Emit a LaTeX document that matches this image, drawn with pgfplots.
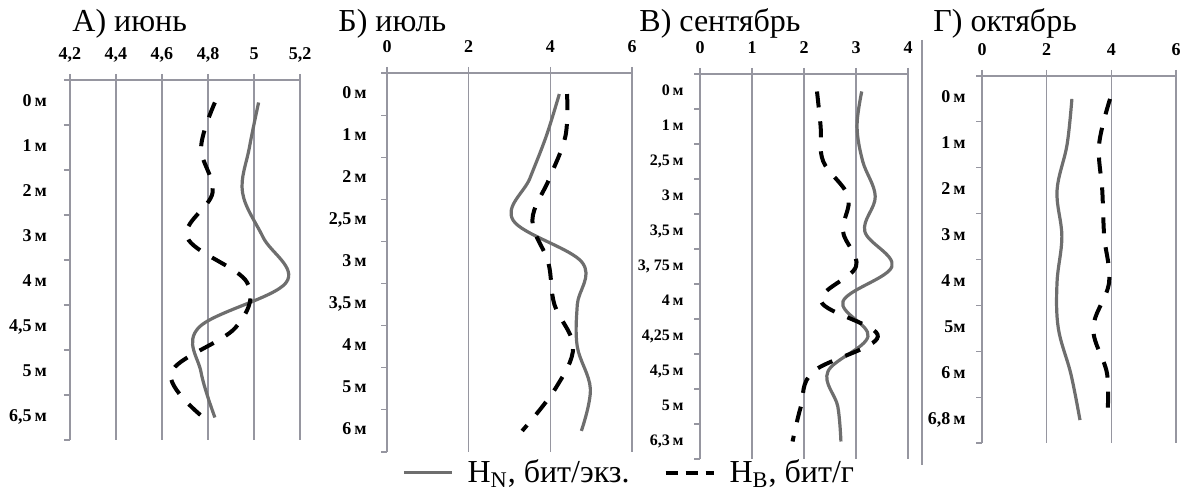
\documentclass[border=0pt]{standalone}
\usepackage{pgfplots}
\pgfplotsset{compat=1.18}
\usepackage{fontspec}
\setmainfont{Liberation Serif}
\definecolor{gridc}{RGB}{150,150,160}
\definecolor{hncol}{RGB}{110,110,110}
\pgfplotsset{
  panel/.style={
    scale only axis,
    axis x line=top,
    axis y line=left,
    axis line style={gridc, line width=0.6pt, -},
    xmajorgrids,
    major grid style={gridc, line width=0.6pt},
    major tick length=0pt,
    minor tick length=3pt,
    tick align=outside,
    minor tick style={gridc, line width=0.6pt},
    tick label style={font=\fontsize{9}{10}\selectfont\bfseries},
    typeset ticklabels with strut,
    /pgf/number format/use comma,
    /pgf/number format/assume math mode=true,
    xticklabel style={yshift=3.5pt},
    legend image code/.code={\draw[##1] (0pt,0pt) -- (24pt,0pt);},
  },
  hn/.style={hncol, line width=1.6pt, smooth, tension=0.6, no markers},
  hb/.style={black, line width=2pt, dash pattern=on 8pt off 7pt, smooth, tension=0.6, no markers},
}
\begin{document}
\begin{tikzpicture}
\path[use as bounding box] (0pt,0pt) rectangle (591.5pt,246pt);
% titles
\node[anchor=base west, inner sep=0pt, font=\fontsize{16}{18}\selectfont] at (36pt,230pt) {А) июнь};
\node[anchor=base west, inner sep=0pt, font=\fontsize{16}{18}\selectfont] at (169pt,230pt) {Б) июль};
\node[anchor=base west, inner sep=0pt, font=\fontsize{16}{18}\selectfont] at (319.5pt,230pt) {В) сентябрь};
\node[anchor=base west, inner sep=0pt, font=\fontsize{16}{18}\selectfont] at (466.5pt,230pt) {Г) октябрь};
\draw[gridc, line width=0.8pt] (461pt,226pt) -- (461pt,13.5pt);

% A
\begin{axis}[panel, at={(35pt,206pt)}, anchor=north west, width=115pt, height=180pt,
  xmin=4.2, xmax=5.2, xtick={4.2,4.4,4.6,4.8,5,5.2}, minor xtick={4.2,4.4,4.6,4.8,5,5.2},
  ymin=-0.5, ymax=7.5, ytick={0,...,7},
  yticklabels={{6,5\,м},{5\,м},{4,5\,м},{4\,м},{3\,м},{2\,м},{1\,м},{0\,м}},
  minor ytick={-0.5,0.5,...,7.5}, yticklabel style={xshift=-8pt}]
\addplot[hn] coordinates {(5.02,7) (4.98,6) (4.95,5) (5.04,4) (5.14,3) (4.76,2) (4.77,1) (4.83,0)};
\addplot[hb] coordinates {(4.83,7) (4.77,6) (4.82,5) (4.71,4) (4.97,3) (4.92,2) (4.64,1) (4.78,0)};
\end{axis}

% B
\begin{axis}[panel, at={(193.5pt,209.5pt)}, anchor=north west, width=122.5pt, height=189.5pt,
  xmin=0, xmax=6, xtick={0,2,4,6}, minor xtick={0,2,4,6},
  ymin=-0.5, ymax=8.5, ytick={0,...,8},
  yticklabels={{6\,м},{5\,м},{4\,м},{3,5\,м},{3\,м},{2,5\,м},{2\,м},{1\,м},{0\,м}},
  minor ytick={-0.5,0.5,...,8.5}, yticklabel style={xshift=-6.7pt}]
\addplot[hn] coordinates {(4.22,8) (3.9,7) (3.5,6) (3.09,5) (4.78,4) (4.66,3) (4.66,2) (4.98,1) (4.76,0)};
\addplot[hb] coordinates {(4.41,8) (4.37,7) (3.98,6) (3.56,5) (3.95,4) (4.1,3) (4.56,2) (4.12,1) (3.31,0)};
\end{axis}

% C
\begin{axis}[panel, at={(350pt,209pt)}, anchor=north west, width=104pt, height=192.5pt,
  xmin=0, xmax=4, xtick={0,1,2,3,4}, minor xtick={0,1,2,3,4},
  ymin=-0.5, ymax=10.5, ytick={0,...,10},
  yticklabels={{6,3\,м},{5\,м},{4,5\,м},{4,25\,м},{4\,м},{3, 75\,м},{3,5\,м},{3\,м},{2,5\,м},{1\,м},{0\,м}},
  minor ytick={-0.5,0.5,...,10.5}, yticklabel style={xshift=-4.7pt, font=\fontsize{8}{9}\selectfont\bfseries},
  legend columns=2,
  legend style={at={(-1.433,-0.036)}, anchor=west, draw=none, fill=none, inner sep=0pt,
    font=\fontsize{16}{18}\selectfont,
    /tikz/every odd column/.append style={column sep=5pt},
    /tikz/every even column/.append style={column sep=15pt}}]
\addplot[hn] coordinates {(3.11,10) (3.02,9) (3.13,8) (3.37,7) (3.17,6) (3.69,5) (2.75,4) (3.23,3) (2.46,2) (2.65,1) (2.71,0)};
\addlegendentry{H\textsubscript{N}, бит/экз.}
\addplot[hb, legend image post style={dash pattern=on 6pt off 4pt}] coordinates {(2.25,10) (2.32,9) (2.37,8) (2.85,7) (2.75,6) (3.0,5) (2.33,4) (3.42,3) (2.18,2) (1.94,1) (1.78,0)};
\addlegendentry{H\textsubscript{B}, бит/г}
\end{axis}

% D
\begin{axis}[panel, at={(491pt,208pt)}, anchor=north west, width=97pt, height=183.5pt,
  xmin=0, xmax=6, xtick={0,2,4,6}, minor xtick={0,2,4,6},
  ymin=-0.5, ymax=7.5, ytick={0,...,7},
  yticklabels={{6,8\,м},{6\,м},{5м},{4\,м},{3\,м},{2\,м},{1\,м},{0\,м}},
  minor ytick={-0.5,0.5,...,7.5}, yticklabel style={xshift=-4.7pt}]
\addplot[hn] coordinates {(2.78,7) (2.63,6) (2.32,5) (2.47,4) (2.32,3) (2.36,2) (2.75,1) (3.03,0)};
\addplot[hb] coordinates {(3.96,7) (3.62,6) (3.72,5) (3.78,4) (3.93,3) (3.44,2) (3.87,1) (3.87,0)};
\end{axis}
\end{tikzpicture}
\end{document}
